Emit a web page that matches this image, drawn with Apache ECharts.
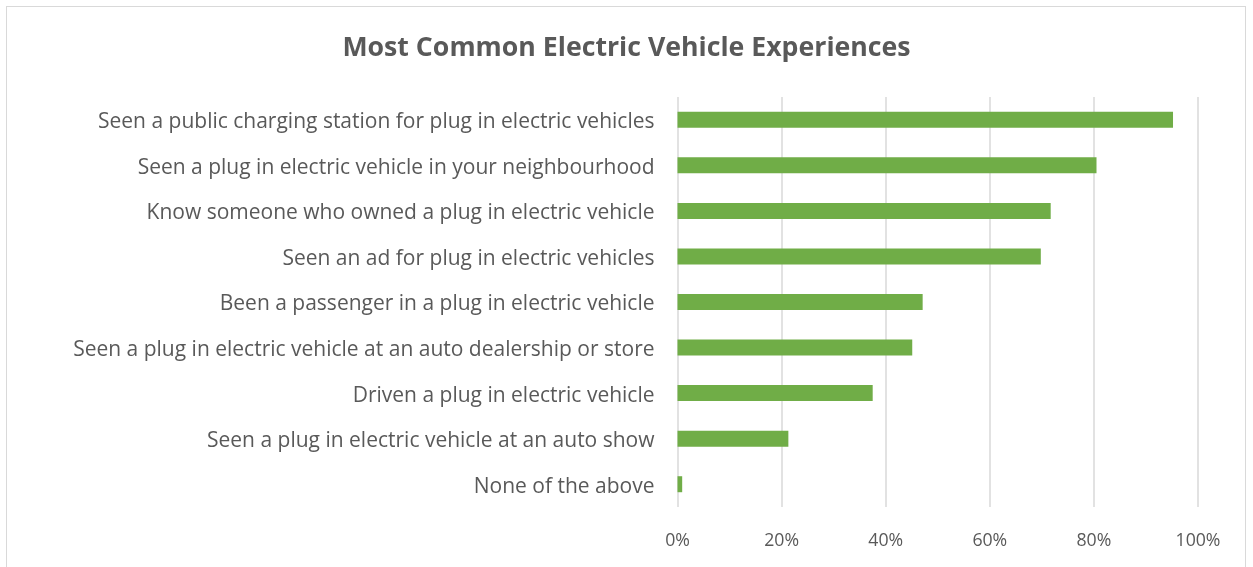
<!DOCTYPE html>
<html>
<head>
<meta charset="utf-8">
<script src="https://cdn.jsdelivr.net/npm/echarts@6/dist/echarts.min.js"></script>
<style>
  html, body { margin: 0; padding: 0; background: #fff; }
  #frame { position: absolute; left: 6px; top: 6px; width: 1240px; height: 600px; border: 1px solid #d9d9d9; box-sizing: border-box; }
  #chart { position: absolute; left: 0; top: 0; width: 1253px; height: 567px; }
</style>
</head>
<body>
<div id="frame"></div>
<div id="chart"></div>
<script>
// Survey answers, listed top to bottom as they appear
const categories = [
  'Seen a public charging station for plug in electric vehicles',
  'Seen a plug in electric vehicle in your neighbourhood',
  'Know someone who owned a plug in electric vehicle',
  'Seen an ad for plug in electric vehicles',
  'Been a passenger in a plug in electric vehicle',
  'Seen a plug in electric vehicle at an auto dealership or store',
  'Driven a plug in electric vehicle',
  'Seen a plug in electric vehicle at an auto show',
  'None of the above'
];
// Share of respondents (%)
const shares = [95.2, 80.5, 71.7, 69.8, 47.1, 45.1, 37.5, 21.3, 0.9];
const axisTicks = [0, 20, 40, 60, 80, 100];

const font = '"Open Sans", sans-serif';
const chart = echarts.init(document.getElementById('chart'), null, { renderer: 'canvas' });
chart.setOption({
  animation: false,
  title: {
    text: 'Most Common Electric Vehicle Experiences',
    left: 'center',
    top: 30,
    textStyle: { fontFamily: font, fontSize: 26.7, fontWeight: 'bold', color: '#595959' }
  },
  grid: { left: 677.5, right: 55, top: 97, bottom: 60, containLabel: false },
  xAxis: {
    type: 'value',
    min: axisTicks[0],
    max: axisTicks[axisTicks.length - 1],
    interval: axisTicks[1] - axisTicks[0],
    axisLine: { show: false },
    axisTick: { show: false },
    splitLine: { lineStyle: { color: '#d9d9d9', width: 1.5 } },
    axisLabel: { formatter: '{value}%', margin: 25, fontFamily: font, fontSize: 17.7, color: '#595959' }
  },
  yAxis: {
    type: 'category',
    inverse: true,
    data: categories,
    axisLine: { show: false },
    axisTick: { show: false },
    axisLabel: {
      margin: 23,
      formatter: (v) => '{t|' + v + '}',
      rich: { t: { padding: [5, 0, 0, 0], fontFamily: font, fontSize: 21, color: '#595959' } }
    }
  },
  series: [{
    type: 'bar',
    data: shares,
    barWidth: 16,
    itemStyle: { color: '#70ad47' }
  }]
});
</script>
</body>
</html>
